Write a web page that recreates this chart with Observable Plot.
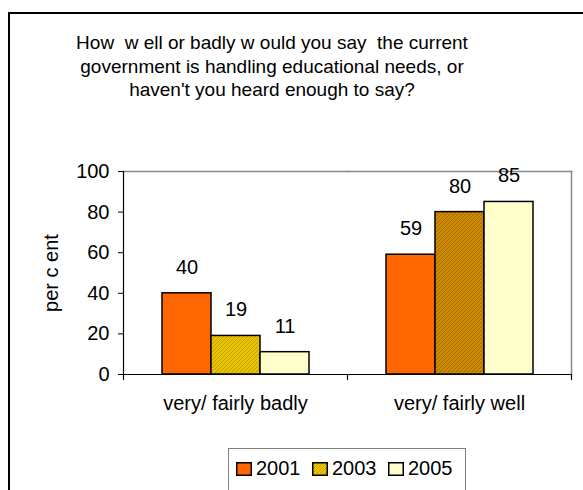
<!DOCTYPE html>
<html>
<head>
<meta charset="utf-8">
<script src="https://cdn.jsdelivr.net/npm/d3@7"></script>
<script src="https://cdn.jsdelivr.net/npm/@observablehq/plot@0.6"></script>
<style>
  html, body { margin: 0; padding: 0; background: #fff; }
  body { width: 583px; height: 490px; overflow: hidden; position: relative; font-family: "Liberation Sans", Arial, sans-serif; }
  #outer { position: absolute; left: 8px; top: 12px; width: 620px; height: 520px; border: 2px solid #000; box-sizing: border-box; }
  #title { position: absolute; left: 0; top: 31px; width: 544px; text-align: center; font-size: 19px; line-height: 23.5px; color: #000; white-space: pre; }
  #chart { position: absolute; left: 0; top: 0; }
  #legend { position: absolute; left: 228px; top: 448px; width: 238px; height: 60px; border: 1px solid #808080; box-sizing: border-box; background: #fff; font-size: 20px; }
  #legend .item { position: absolute; top: 8px; display: flex; align-items: center; }
  #legend svg { display: block; margin-right: 4px; }
</style>
</head>
<body>
<svg width="0" height="0" style="position:absolute">
  <defs>
    <pattern id="hatchYellow" width="4" height="4" patternUnits="userSpaceOnUse">
      <rect width="4" height="4" fill="#E8C400"></rect>
      <path d="M-1,1 l2,-2 M0,4 l4,-4 M3,5 l2,-2" stroke="#C4A000" stroke-width="1"></path>
    </pattern>
    <pattern id="hatchBrown" width="4" height="4" patternUnits="userSpaceOnUse">
      <rect width="4" height="4" fill="#CC8A00"></rect>
      <path d="M-1,1 l2,-2 M0,4 l4,-4 M3,5 l2,-2" stroke="#A66C00" stroke-width="1"></path>
    </pattern>
  </defs>
</svg>
<div id="outer"></div>
<div id="title">How  w ell or badly w ould you say  the current
government is handling educational needs, or
haven't you heard enough to say?</div>
<div id="chart"></div>
<div id="legend"></div>
<script>
// ---- data ----
const categories = ["very/ fairly badly", "very/ fairly well"];
const years = ["2001", "2003", "2005"];
const values2001 = [40, 59];
const values2003 = [19, 80];
const values2005 = [11, 85];
const yTicks = [0, 20, 40, 60, 80, 100];
const yLabel = "per c ent";

const seriesValues = {"2001": values2001, "2003": values2003, "2005": values2005};
const table = [];
categories.forEach((cat, i) => {
  years.forEach(yr => {
    table.push({cat, year: yr, value: seriesValues[yr][i],
      fillKey: (yr === "2003" && i === 1) ? "2003-dark" : yr});
  });
});

const W = 583, H = 490;
const mL = 123, mR = 12, mT = 171, mB = 116;
const plotH = H - mT - mB;
const font = '"Liberation Sans", Arial, sans-serif';

const chart = Plot.plot({
  width: W, height: H,
  marginLeft: mL, marginRight: mR, marginTop: mT, marginBottom: mB,
  style: {background: "transparent", fontFamily: font, fontSize: "20px", color: "#000", overflow: "visible"},
  fx: {domain: categories, padding: 0, label: null, axis: "bottom", tickSize: 0, tickPadding: 21, fontSize: 20},
  x: {domain: years, paddingInner: 0, paddingOuter: 0.74, axis: null},
  y: {domain: [0, 100], ticks: yTicks, tickSize: 5, tickPadding: 9, label: yLabel, labelAnchor: "center", labelOffset: 80, labelArrow: false},
  color: {domain: ["2001", "2003", "2003-dark", "2005"], range: ["#FF6600", "url(#hatchYellow)", "url(#hatchBrown)", "#FFFFCC"]},
  marks: [
    Plot.frame({anchor: "top", stroke: "#888", strokeWidth: 1.5}),
    Plot.frame({anchor: "right", stroke: "#888", strokeWidth: 1.5, fx: categories[1]}),
    Plot.barY(table, {fx: "cat", x: "year", y: "value", fill: "fillKey", stroke: "#000", strokeWidth: 1.5}),
    Plot.frame({anchor: "bottom", stroke: "#000", strokeWidth: 1.2}),
    Plot.frame({anchor: "left", stroke: "#000", strokeWidth: 1.2, insetBottom: -5, fx: categories[0]}),
    Plot.frame({anchor: "left", stroke: "#000", strokeWidth: 1.2, insetTop: plotH, insetBottom: -5, fx: categories[1]}),
    Plot.frame({anchor: "right", stroke: "#000", strokeWidth: 1.2, insetTop: plotH, insetBottom: -5, fx: categories[1]}),
    Plot.text(table, {fx: "cat", x: "year", y: "value", text: d => String(d.value), dy: -26, fill: "#000", fontSize: 20})
  ]
});
document.getElementById("chart").appendChild(chart);

// legend
const legendFills = {"2001": "#FF6600", "2003": "url(#hatchYellow)", "2005": "#FFFFCC"};
const legend = document.getElementById("legend");
const legendLefts = [7, 83, 159];
years.forEach((yr, i) => {
  const item = document.createElement("div");
  item.className = "item";
  item.style.left = legendLefts[i] + "px";
  item.innerHTML = `<svg width="16" height="14"><rect x="0.75" y="0.75" width="14.5" height="12.5" fill="${legendFills[yr]}" stroke="#000" stroke-width="1.5"></rect></svg><span>${yr}</span>`;
  legend.appendChild(item);
});
</script>
</body>
</html>
